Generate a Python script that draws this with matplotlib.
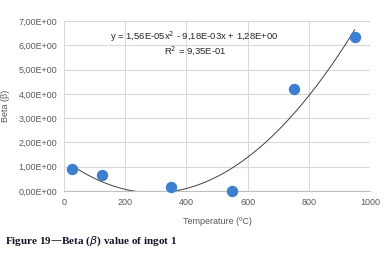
import numpy as np
import matplotlib
matplotlib.use("Agg")
import matplotlib.pyplot as plt

# data
temperature = [25, 125, 350, 550, 750, 950]
beta = [0.92, 0.64, 0.15, 0.02, 4.22, 6.35]

# trend line coefficients shown on the chart
coef = [1.56e-05, -9.18e-03, 1.28]
yticks = [0, 1, 2, 3, 4, 5, 6, 7]
ytick_labels = ["0,00E+00", "1,00E+00", "2,00E+00", "3,00E+00",
                "4,00E+00", "5,00E+00", "6,00E+00", "7,00E+00"]
xticks = [0, 200, 400, 600, 800, 1000]

grey = "#595959"
plt.rcParams['font.family'] = ['Liberation Sans', 'DejaVu Sans']

fig = plt.figure(figsize=(3.84, 2.56), dpi=100)
ax = fig.add_axes([64 / 384, 1 - 191 / 256, 306 / 384, 170 / 256])

# trend line
xs = np.linspace(temperature[0], temperature[-1], 200)
ax.plot(xs, np.polyval(coef, xs), color="#404040", lw=0.7, zorder=3)
ax.plot(temperature, beta, "o", color="#3d7fcf", ms=7.2, zorder=4, clip_on=False)

ax.set_xlim(0, 1000)
ax.set_ylim(0, 7)
ax.set_xticks(xticks)
ax.set_yticks(yticks)
ax.set_yticklabels(ytick_labels)
ax.grid(True, color="#d9d9d9", lw=0.8)
ax.set_axisbelow(True)
for s in ["top", "right", "left"]:
    ax.spines[s].set_visible(False)
ax.spines["bottom"].set_color("#bfbfbf")
ax.tick_params(length=0, labelsize=6.5, colors=grey, pad=5)

ax.set_xlabel("Temperature (ºC)", fontsize=6.5, color=grey, labelpad=7)
ax.set_ylabel("Beta (β)", fontsize=6.5, color=grey)
ax.yaxis.set_label_coords(-54 / 306, 0.5)

ax.text(425, 6.34, "y = 1,56E-05x$^2$ - 9,18E-03x + 1,28E+00", fontsize=6.8,
        color="#262626", ha="center", va="center")
ax.text(428, 5.8, "R$^2$ = 9,35E-01", fontsize=6.8,
        color="#262626", ha="center", va="center")

fig.text(5 / 384, 1 - 241 / 256, r"Figure 19—Beta ($\beta$) value of ingot 1",
         fontsize=8, fontweight="bold", family="Liberation Serif",
         color="#14142a", ha="left", va="center")

fig.savefig("out.png", dpi=100)
